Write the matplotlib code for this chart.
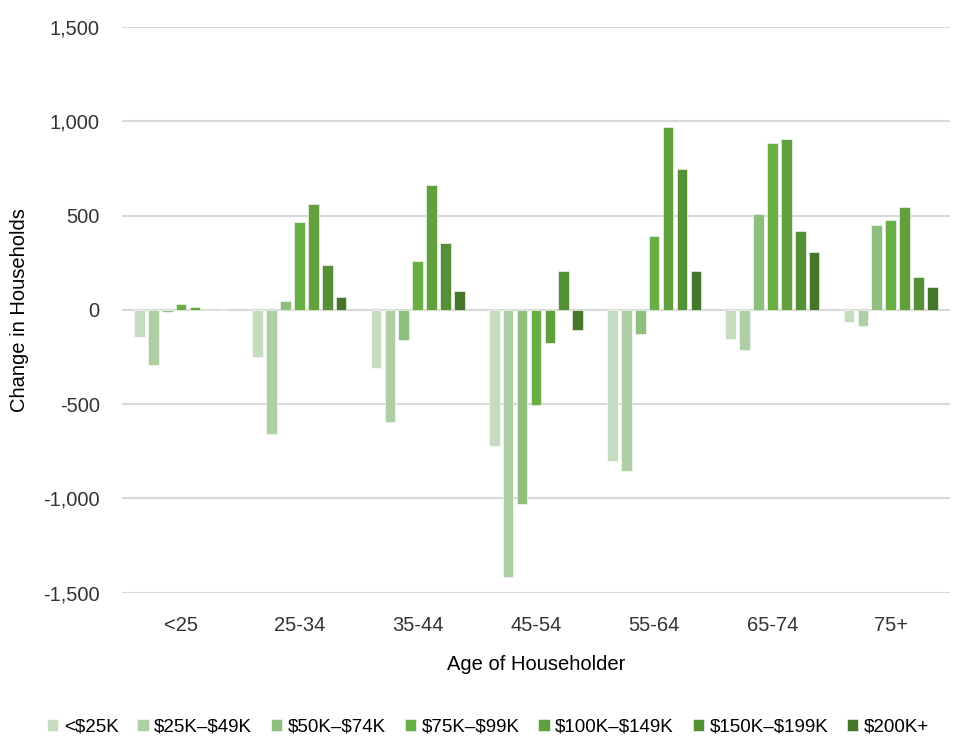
import matplotlib
matplotlib.use("Agg")
import matplotlib.pyplot as plt
import numpy as np
from matplotlib import font_manager

ages = ["<25", "25-34", "35-44", "45-54", "55-64", "65-74", "75+"]
series_names = [r"<\$25K", "\\$25K\u2013\\$49K", "\\$50K\u2013\\$74K", "\\$75K\u2013\\$99K",
                "\\$100K\u2013\\$149K", "\\$150K\u2013\\$199K", r"\$200K+"]
lt25K = [-142, -252, -310, -723, -803, -154, -66]
k25_49 = [-293, -656, -594, -1418, -856, -213, -85]
k50_74 = [-12, 48, -160, -1028, -128, 511, 449]
k75_99 = [30, 465, 257, -502, 390, 883, 479]
k100_149 = [14, 560, 661, -174, 970, 908, 546]
k150_199 = [0, 239, 355, 204, 745, 417, 177]
k200p = [0, 67, 101, -106, 204, 307, 121]
values = [lt25K, k25_49, k50_74, k75_99, k100_149, k150_199, k200p]
colors = ["#c6dcc0", "#adcfa3", "#8fbf7f", "#6aaf45", "#62a03d", "#558f36", "#46762b"]

names = {f.name for f in font_manager.fontManager.ttflist}
fam = "Liberation Sans Narrow" if "Liberation Sans Narrow" in names else "Liberation Sans"
plt.rcParams["font.family"] = [fam, "DejaVu Sans"]

fig = plt.figure(figsize=(9.57, 7.41), dpi=100)
ax = fig.add_axes([0.1275, 0.2, 0.865, 0.7636])

x = np.arange(len(ages))
step = 0.1176
width = 0.09
for i, (name, vals, c) in enumerate(zip(series_names, values, colors)):
    ax.bar(x + (i - 3) * step, vals, width, color=c, label=name, zorder=3,
           edgecolor="white", linewidth=0.4)

ax.set_ylim(-1500, 1500)
ax.set_xlim(-0.5, 6.5)
ax.set_yticks(np.arange(-1500, 1501, 500))
ax.yaxis.set_major_formatter(matplotlib.ticker.FuncFormatter(lambda v, p: f"{int(v):,}"))
ax.yaxis.grid(True, color="#d9d9d9", linewidth=1.5, zorder=0)
ax.set_xticks(x)
ax.set_xticklabels(ages)
ax.tick_params(axis="both", length=0, labelsize=14.5, colors="#333333")
ax.tick_params(axis="y", pad=16)
ax.tick_params(axis="x", pad=17)
for s in ax.spines.values():
    s.set_visible(False)
ax.set_ylabel("Change in Households", fontsize=14.5, color="#000000", labelpad=10)
ax.set_xlabel("Age of Householder", fontsize=14.5, color="#000000", labelpad=14)

leg = fig.legend(loc="center", bbox_to_anchor=(0.51, 0.019), ncol=7, frameon=False,
                 fontsize=13.5, handlelength=0.6, handleheight=0.6, handletextpad=0.3,
                 columnspacing=1.0)
fig.savefig("out.png", dpi=100, facecolor="white")
